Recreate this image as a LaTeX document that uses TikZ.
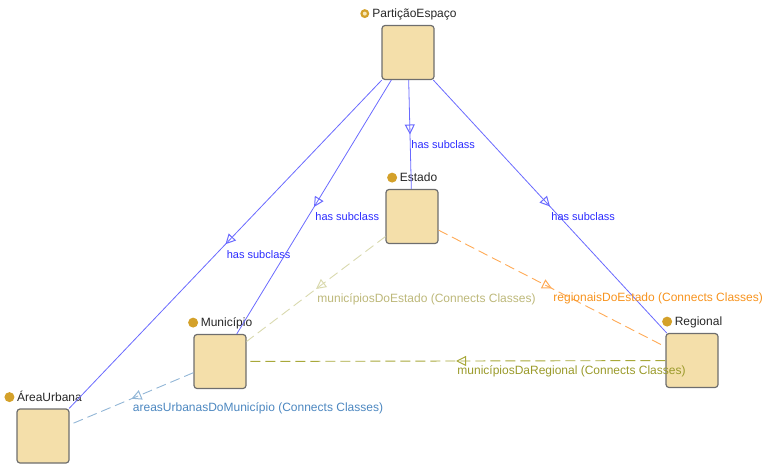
\documentclass[tikz,border=0pt]{standalone}
\usepackage{fontspec}
\setmainfont{Liberation Sans}
\usetikzlibrary{arrows.meta,decorations.markings}

\definecolor{boxfill}{HTML}{F4DFAA}
\definecolor{boxedge}{HTML}{6E6E6E}
\definecolor{icongold}{HTML}{D4A12A}
\definecolor{iconcore}{HTML}{F8E8B8}
\definecolor{subline}{HTML}{6A6AFF}
\definecolor{subtext}{HTML}{2B2BFF}
\definecolor{estmunline}{HTML}{D9D9AE}
\definecolor{estmuntext}{HTML}{BDB87A}
\definecolor{estregline}{HTML}{FFAA55}
\definecolor{estregtext}{HTML}{F7931E}
\definecolor{regmunline}{HTML}{A8A83A}
\definecolor{regmuntext}{HTML}{9A9A2A}
\definecolor{munareline}{HTML}{92B6D6}
\definecolor{munaretext}{HTML}{4C87C0}

\tikzset{
  cls/.style={draw=boxedge, line width=1.2pt, fill=boxfill, rounded corners=3pt,
    minimum width=52pt, minimum height=54pt, inner sep=0pt},
  clsname/.style={font=\fontsize{12}{14}\selectfont, anchor=base, inner sep=0pt, text=black!85},
  midtip/.style={postaction={decorate}, decoration={markings,
    mark=at position 0.5 with {\arrow{Triangle[open,length=10pt,width=10pt,line width=1pt]}}}},
  subcl/.style={draw=subline, line width=0.8pt, midtip},
  rel/.style={dash pattern=on 10pt off 5pt, line width=0.9pt, midtip},
  elabel/.style={anchor=west, inner sep=0pt, xshift=1pt, yshift=-10pt,
    font=\fontsize{12}{14}\selectfont},
  sublabel/.style={elabel, text=subtext, font=\fontsize{11}{13}\selectfont},
  dot/.style={fill=icongold}
}

\begin{document}
\begin{tikzpicture}[x=1pt, y=-1pt]
  \useasboundingbox (0,0) rectangle (765,464);

  % classes
  \node[cls] (P) at (408,52.5) {};
  \node[cls] (E) at (412,216.5) {};
  \node[cls] (M) at (220,361.5) {};
  \node[cls] (A) at (43,436) {};
  \node[cls] (R) at (692,360.5) {};

  % class names with their icons
  \node[clsname] (lP) at ([xshift=6.5pt,yshift=7pt]P.north) {PartiçãoEspaço};
  \node[clsname] (lE) at ([xshift=6.5pt,yshift=7pt]E.north) {Estado};
  \node[clsname] (lM) at ([xshift=6.5pt,yshift=7pt]M.north) {Município};
  \node[clsname] (lA) at ([xshift=6.5pt,yshift=7pt]A.north) {ÁreaUrbana};
  \node[clsname] (lR) at ([xshift=6.5pt,yshift=7pt]R.north) {Regional};

  \fill[icongold] ([xshift=-7.5pt,yshift=4.3pt]lP.base west) circle (4.5pt);
  \fill[iconcore] ([xshift=-7.5pt,yshift=4.3pt]lP.base west) circle (2pt);
  \fill[dot] ([xshift=-7.5pt,yshift=4.3pt]lE.base west) circle (5pt);
  \fill[dot] ([xshift=-7.5pt,yshift=4.3pt]lM.base west) circle (5pt);
  \fill[dot] ([xshift=-7.5pt,yshift=4.3pt]lA.base west) circle (5pt);
  \fill[dot] ([xshift=-7.5pt,yshift=4.3pt]lR.base west) circle (5pt);

  % subclass links
  \draw[subcl] (P) -- (A) node[sublabel, pos=0.5] {has subclass};
  \draw[subcl] (P) -- (M) node[sublabel, pos=0.5] {has subclass};
  \draw[subcl] (P) -- (E) node[sublabel, pos=0.5] {has subclass};
  \draw[subcl] (P) -- (R) node[sublabel, pos=0.5] {has subclass};

  % object property links
  \draw[rel, draw=estmunline] (E) -- (M)
    node[elabel, pos=0.5, text=estmuntext] {municípiosDoEstado (Connects Classes)};
  \draw[rel, draw=estregline] (E) -- (R)
    node[elabel, pos=0.5, text=estregtext] {regionaisDoEstado (Connects Classes)};
  \draw[rel, draw=regmunline] (R) -- (M)
    node[elabel, pos=0.5, text=regmuntext] {municípiosDaRegional (Connects Classes)};
  \draw[rel, draw=munareline] (M) -- (A)
    node[elabel, pos=0.5, text=munaretext] {areasUrbanasDoMunicípio (Connects Classes)};
\end{tikzpicture}
\end{document}
